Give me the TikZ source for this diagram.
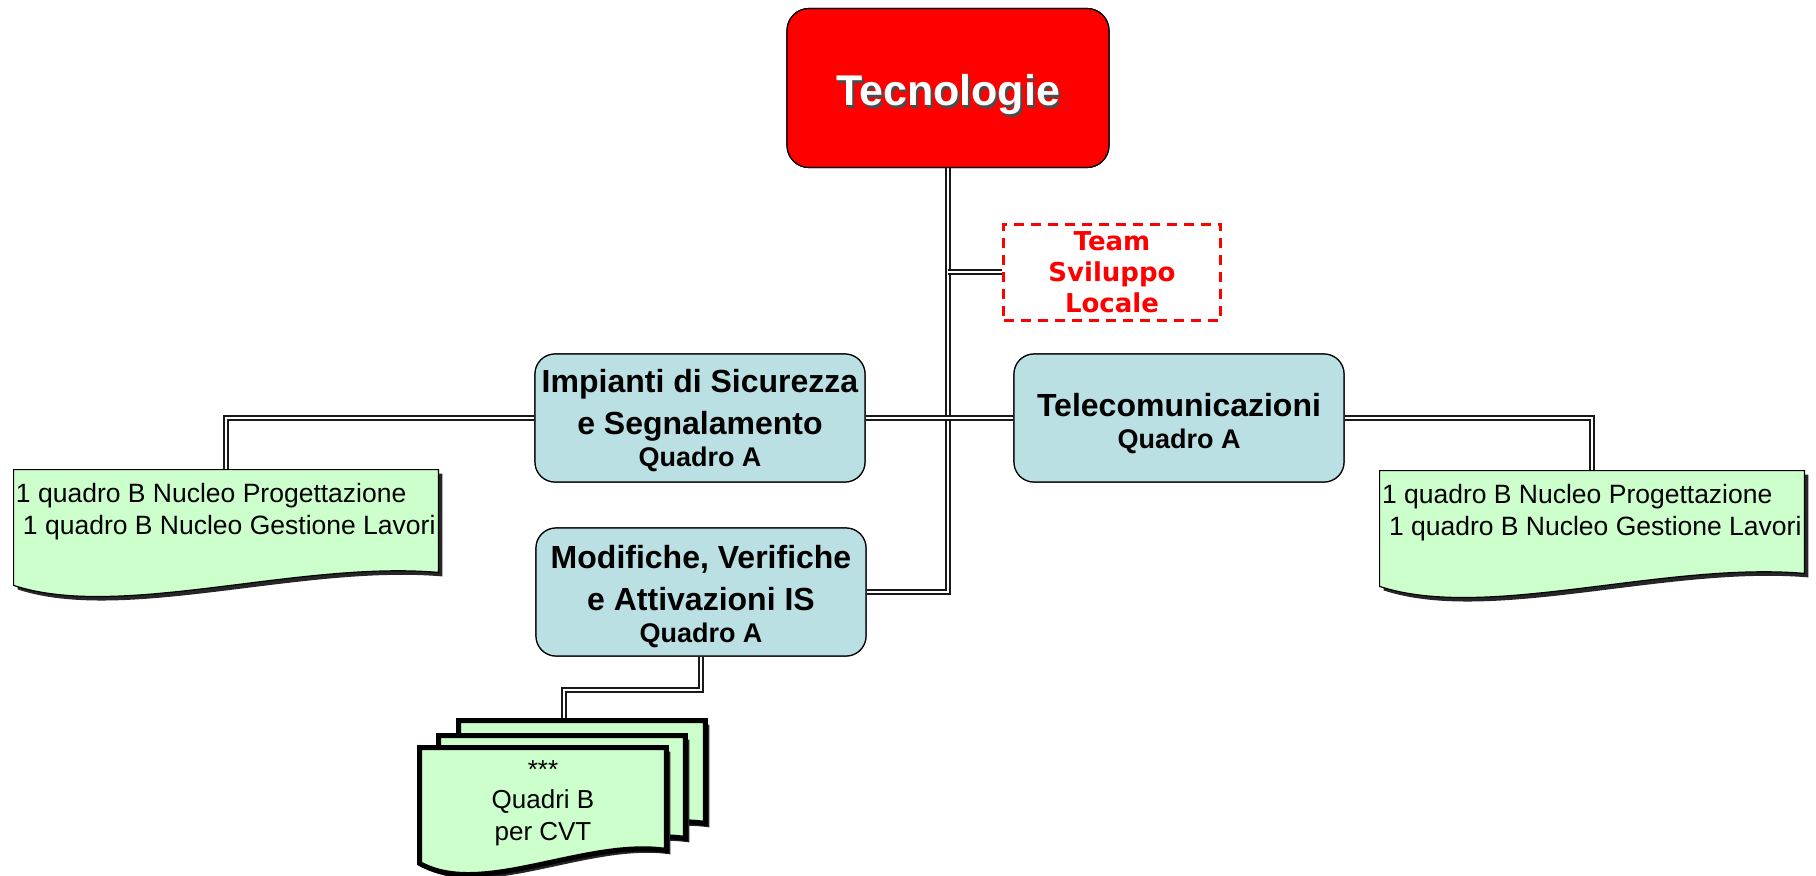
\documentclass[tikz,border=0pt]{standalone}
\usepackage{fontspec}
\setmainfont{Liberation Sans}
\newfontfamily\teamfont{DejaVu Sans}
\usetikzlibrary{calc, positioning}
\definecolor{techred}{RGB}{255,0,0}
\definecolor{unitblue}{RGB}{187,224,227}
\definecolor{docgreen}{RGB}{204,255,204}

% document shape with wavy bottom and drop shadow
\newcommand{\docshape}[2]{%
  \fill[black!85, transform canvas={xshift=2pt,yshift=-2pt}] (#1.north west) -- (#1.north east) -- (#1.south east)
    .. controls ($(#1.south east)!0.33!(#1.south west)+(0,-12)$) and ($(#1.south east)!0.75!(#1.south west)+(0,48)$) .. ($(#1.south west)+(0,13)$) -- cycle;
  \filldraw[fill=docgreen, draw=black, #2] (#1.north west) -- (#1.north east) -- (#1.south east)
    .. controls ($(#1.south east)!0.33!(#1.south west)+(0,-12)$) and ($(#1.south east)!0.75!(#1.south west)+(0,48)$) .. ($(#1.south west)+(0,13)$) -- cycle;
}
\newcommand{\quadroA}{{\fontsize{13.5}{15}\selectfont Quadro A}}

\begin{document}
\begin{tikzpicture}[x=0.5pt, y=-0.5pt,
  link/.style={draw=black!90, line width=0.7pt, double=white, double distance=1.2pt},
  topbox/.style={draw=black, line width=0.6pt, fill=techred, rounded corners=11pt, minimum width=161pt, minimum height=79.5pt},
  toptext/.style={font=\bfseries\fontsize{21.5}{25}\selectfont},
  unitbox/.style={draw=black, line width=0.6pt, fill=unitblue, rounded corners=10pt, minimum width=165pt, minimum height=64pt, inner sep=0pt, align=center, font=\bfseries\fontsize{16}{21}\selectfont},
  teambox/.style={draw=red, line width=1.5pt, dash pattern=on 5pt off 3.5pt, minimum width=108.5pt, minimum height=48pt, inner sep=0pt, align=center, text=red, font=\teamfont\bfseries\fontsize{13}{15.5}\selectfont},
  docbox/.style={minimum width=212pt, minimum height=51pt, inner sep=0pt},
  cvtbox/.style={minimum width=123pt, minimum height=51pt, inner sep=0pt, align=center, font=\fontsize{13}{16}\selectfont},
  doctext/.style={anchor=north west, inner xsep=1pt, inner ysep=6.5pt, align=left, font=\fontsize{13.25}{16}\selectfont}]
\useasboundingbox (0,0) rectangle (1816,875);

% Nodes
\node[topbox] (tec) at (948,88) {};
\node[teambox] (team) at (1112,272) {Team\\Sviluppo\\Locale};
\node[unitbox] (isa) at (700,418) {\rule{0pt}{14pt}Impianti di Sicurezza\\e Segnalamento\\[-5pt]\quadroA};
\node[unitbox] (tlc) at (1179,418) {\rule{0pt}{17.5pt}Telecomunicazioni\\[-5pt]\quadroA};
\node[unitbox] (mod) at (701,592) {\rule{0pt}{16pt}Modifiche, Verifiche\\e Attivazioni IS\\[-5pt]\quadroA};
\node[docbox] (ldoc) at (226,521) {};
\node[docbox] (rdoc) at (1592,522) {};
\node[cvtbox] (cvtback) at (582,772) {};
\node[cvtbox] (cvtmid) at (562,787) {};
\node[cvtbox] (cvtfront) at (543,799) {};
\coordinate (cvtjoint) at (564,690);

% Connectors
\draw[link] (tec.south) |- (mod.east);
\draw[link] (tec.south |- team.west) -- (team.west);
\draw[link] (isa.east) -- (tlc.west);
\draw[link] (isa.west) -| (ldoc.north);
\draw[link] (tlc.east) -| (rdoc.north);
\draw[link] (mod.south) |- (cvtjoint) -- (cvtjoint |- cvtback.north);

% Boxes on top of the connectors
\node[topbox] at (tec) {};
\node[toptext, text=black!70] (tecshade) at ($(tec)+(2,9)$) {Tecnologie};
\node[toptext, text=white] (teclabel) at ($(tec)+(0,6)$) {Tecnologie};
\node[unitbox] at (isa) {\rule{0pt}{14pt}Impianti di Sicurezza\\e Segnalamento\\[-5pt]\quadroA};
\node[unitbox] at (tlc) {\rule{0pt}{17.5pt}Telecomunicazioni\\[-5pt]\quadroA};
\node[unitbox] at (mod) {\rule{0pt}{16pt}Modifiche, Verifiche\\e Attivazioni IS\\[-5pt]\quadroA};

% Documents
\docshape{ldoc}{line width=0.6pt}
\docshape{rdoc}{line width=0.6pt}
\node[doctext] (ltext) at (ldoc.north west) {1 quadro B Nucleo Progettazione\\\hspace*{3.5pt}1 quadro B Nucleo Gestione Lavori};
\node[doctext] (rtext) at (rdoc.north west) {1 quadro B Nucleo Progettazione\\\hspace*{3.5pt}1 quadro B Nucleo Gestione Lavori};

% Stack of CVT documents
\docshape{cvtback}{line width=2.5pt}
\docshape{cvtmid}{line width=2.5pt}
\docshape{cvtfront}{line width=2.5pt}
\node[cvtbox] (cvttext) at ($(cvtfront)+(0,4)$) {***\\[-1pt]Quadri B\\per CVT};
\end{tikzpicture}
\end{document}
